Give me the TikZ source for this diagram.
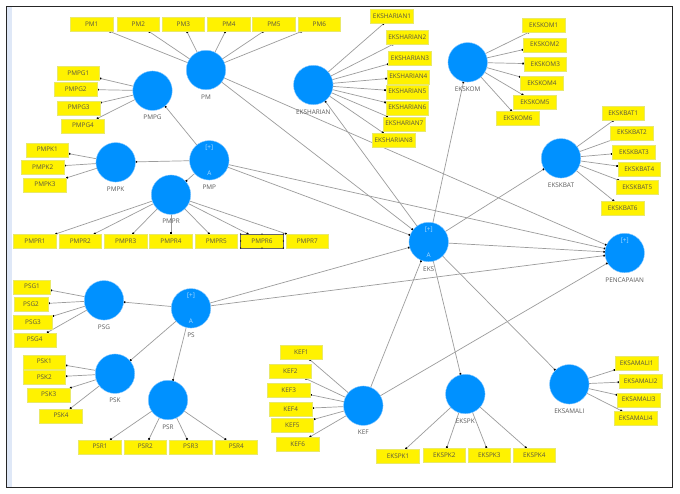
\documentclass[tikz,border=0pt]{standalone}
\usepackage{fontspec}
\setmainfont{Open Sans}
\usetikzlibrary{arrows.meta,backgrounds}
\definecolor{lvblue}{HTML}{0091FF}
\definecolor{lvedge}{HTML}{8CCBFF}
\definecolor{lvtext}{HTML}{A9DAFF}
\definecolor{labgray}{HTML}{5A5A5A}
\definecolor{linegray}{HTML}{9C9C9C}
\definecolor{boxedge}{HTML}{E9E96A}
\definecolor{strip}{HTML}{DFE8F7}
\tikzset{
  ind/.style={rectangle,draw=boxedge,line width=0.4pt,fill=yellow,minimum width=42.7pt,minimum height=14pt,inner sep=0pt,outer sep=0pt,font=\fontsize{6.4}{7}\selectfont,text=black!75!yellow},
  lv/.style={circle,draw=lvedge,line width=0.4pt,fill=lvblue,minimum size=39.5pt,inner sep=0pt,outer sep=0pt},
  lvname/.style={inner sep=0pt,font=\fontsize{6.4}{7}\selectfont,text=labgray},
  lvmark/.style={inner sep=0pt,font=\fontsize{6.4}{7}\selectfont,text=lvtext},
  conn/.style={draw=linegray,line width=0.7pt,-{Square[length=1.7pt,width=1.7pt,black]}},
  frameline/.style={draw=black!85,line width=1pt}
}
\begin{document}
\begin{tikzpicture}[x=1pt,y=-1pt]
\useasboundingbox (0,0) rectangle (680,493);
% latent variables
\foreach \n/\x/\y in {PM/206/70,PMPG/152.5/90.7,PMPK/115.7/162.3,PMP/209.3/160.3,PMPR/171/194.7,EKSHARIAN/313.3/85,EKSKOM/467.7/62.3,EKSKBAT/561/158.3,EKS/428.7/242,PENCAPAIAN/624.7/253,PSG/104/300.3,PS/191/308.3,PSK/115/373.7,PSR/168/400,KEF/363.3/405.7,EKSPK/465.3/394,EKSAMALI/569.3/384.3}{
  \node[lv] (\n) at (\x,\y) {};
  \node[lvname] (\n name) at (\x,\y+27) {\n};
}
\foreach \n in {PMP,EKS,PS,PENCAPAIAN}{
  \node[lvmark] (\n plus) at ([yshift=12.7pt]\n.center) {[+]};
}
\foreach \n in {PMP,EKS,PS}{
  \node[lvmark] (\n mode) at ([yshift=-13pt]\n.center) {A};
}
% indicators
\foreach \n/\x/\y in {PM1/91.7/24.3,PM2/138.3/24.3,PM3/183.3/24.3,PM4/229/24.3,PM5/274/24.3,PM6/319.3/24.3,
 PMPG1/78.3/73.3,PMPG2/75.7/89.3,PMPG3/78.7/107.7,PMPG4/83/125.7,
 PMPK1/47.3/149.7,PMPK2/42.7/167,PMPK3/45/184.7,
 PMPR1/35/241,PMPR2/80.3/241,PMPR3/125.7/241,PMPR4/171/241,PMPR5/216.3/241,PMPR6/262/241,PMPR7/307.3/241,
 EKSHARIAN1/392/16.3,EKSHARIAN2/407.3/37,EKSHARIAN3/410/58,EKSHARIAN4/408.3/76.7,EKSHARIAN5/407.3/91.7,EKSHARIAN6/407.3/107.7,EKSHARIAN7/404.3/123.7,EKSHARIAN8/393.7/140,
 EKSKOM1/543.7/25,EKSKOM2/544.7/44.7,EKSKOM3/545.3/64,EKSKOM4/542/83,EKSKOM5/535/102,EKSKOM6/518/118,
 EKSKBAT1/623.3/113.3,EKSKBAT2/632/132.7,EKSKBAT3/634/152,EKSKBAT4/639.3/169,EKSKBAT5/637.3/187.3,EKSKBAT6/622.7/208,
 PSK1/44.3/361.7,PSK2/44.3/377.3,PSK3/48.7/394.7,PSK4/61/415.7,
 PSR1/100/446.7,PSR2/145.3/446.7,PSR3/190.7/446.7,PSR4/236.3/446.7,
 KEF1/301.3/352.3,KEF2/290.3/371.3,KEF3/288.7/390.3,KEF4/290.7/409,KEF5/292.3/425.3,KEF6/297.7/444,
 EKSPK1/398/456,EKSPK2/444.3/455,EKSPK3/489.3/455,EKSPK4/534.3/455,
 EKSAMALI1/636.7/363,EKSAMALI2/640.7/381.3,EKSAMALI3/638.7/399.7,EKSAMALI4/635.7/418}{
  \node[ind] (\n) at (\x,\y) {\n};
}
\foreach \n/\x/\y/\w in {PSG1/32/286.7/36.7,PSG2/31/304.3/34.5,PSG3/33/322.3/38.7,PSG4/34.7/339.7/42}{
  \node[ind,minimum width=\w pt] (\n) at (\x,\y) {\n};
}
% selected indicator
\draw[black!60,line width=0.4pt] (PMPR6.north west) rectangle (PMPR6.south east);
\foreach \p in {north west,north,north east,east,south east,south,south west,west}{
  \fill[black] (PMPR6.\p) circle (0.7);
}
\begin{scope}[on background layer]
  \fill[white] (0,0) rectangle (680,493);
  \fill[strip] (6,6) rectangle (11.5,487);
  \draw[frameline] (6,6) rectangle (672,487);
  \foreach \a/\b in {PM/PM1,PM/PM2,PM/PM3,PM/PM4,PM/PM5,PM/PM6,
   PMPG/PMPG1,PMPG/PMPG2,PMPG/PMPG3,PMPG/PMPG4,
   PMPK/PMPK1,PMPK/PMPK2,PMPK/PMPK3,
   PMPR/PMPR1,PMPR/PMPR2,PMPR/PMPR3,PMPR/PMPR4,PMPR/PMPR5,PMPR/PMPR6,PMPR/PMPR7,
   EKSHARIAN/EKSHARIAN1,EKSHARIAN/EKSHARIAN2,EKSHARIAN/EKSHARIAN3,EKSHARIAN/EKSHARIAN4,EKSHARIAN/EKSHARIAN5,EKSHARIAN/EKSHARIAN6,EKSHARIAN/EKSHARIAN7,EKSHARIAN/EKSHARIAN8,
   EKSKOM/EKSKOM1,EKSKOM/EKSKOM2,EKSKOM/EKSKOM3,EKSKOM/EKSKOM4,EKSKOM/EKSKOM5,EKSKOM/EKSKOM6,
   EKSKBAT/EKSKBAT1,EKSKBAT/EKSKBAT2,EKSKBAT/EKSKBAT3,EKSKBAT/EKSKBAT4,EKSKBAT/EKSKBAT5,EKSKBAT/EKSKBAT6,
   PSG/PSG1,PSG/PSG2,PSG/PSG3,PSG/PSG4,
   PSK/PSK1,PSK/PSK2,PSK/PSK3,PSK/PSK4,
   PSR/PSR1,PSR/PSR2,PSR/PSR3,PSR/PSR4,
   KEF/KEF1,KEF/KEF2,KEF/KEF3,KEF/KEF4,KEF/KEF5,KEF/KEF6,
   EKSPK/EKSPK1,EKSPK/EKSPK2,EKSPK/EKSPK3,EKSPK/EKSPK4,
   EKSAMALI/EKSAMALI1,EKSAMALI/EKSAMALI2,EKSAMALI/EKSAMALI3,EKSAMALI/EKSAMALI4,
   PMP/PMPG,PMP/PMPK,PMP/PMPR,PMP/EKS,PMP/PENCAPAIAN,
   PM/EKS,PM/PENCAPAIAN,
   EKS/EKSHARIAN,EKS/EKSKOM,EKS/EKSKBAT,EKS/PENCAPAIAN,EKS/EKSPK,EKS/EKSAMALI,
   KEF/EKS,KEF/PENCAPAIAN,
   PS/PSG,PS/PSK,PS/PSR,PS/EKS,PS/PENCAPAIAN}{
    \draw[conn] (\a) -- (\b);
  }
\end{scope}
\end{tikzpicture}
\end{document}
